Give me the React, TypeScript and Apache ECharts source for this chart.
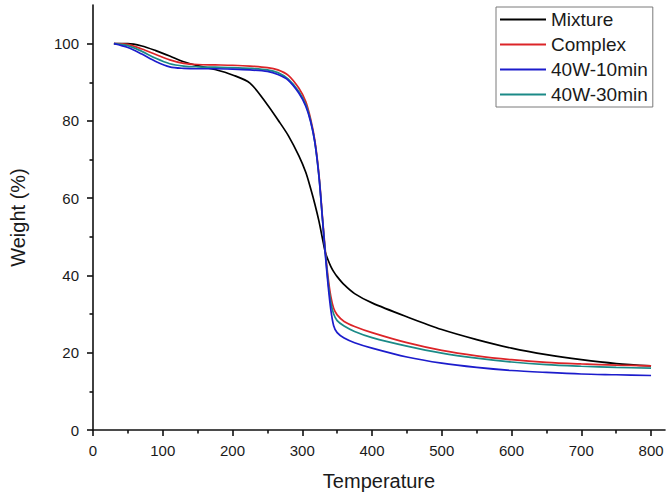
import React, { useEffect, useRef } from "react";
import * as echarts from "echarts";

const seriesNames = ["Mixture", "Complex", "40W-10min", "40W-30min"];
const seriesColors = ["#000000", "#dc2428", "#1c1ccc", "#1b8a87"];

const temps = [30, 50, 70, 90, 110, 130, 150, 175, 200, 225, 250, 265, 280, 295, 305, 312, 318, 324, 329, 333, 337, 341, 345, 350, 360, 375, 400, 450, 500, 550, 600, 650, 700, 750, 800];

const mixture = [100, 100, 99.4, 98.2, 96.8, 95.3, 94.3, 93.3, 91.9, 89.8, 84.2, 80.3, 76.2, 71, 66.7, 62.5, 58.5, 54, 49.5, 46, 44, 42.3, 41, 39.7, 37.6, 35.3, 32.9, 29.3, 26, 23.4, 21.2, 19.5, 18.2, 17.2, 16.6];
const complex = [100, 99.8, 98.6, 97.2, 95.8, 94.9, 94.6, 94.5, 94.4, 94.2, 93.8, 93.2, 91.8, 88.5, 85, 80.5, 75, 66, 55, 46.5, 39.5, 34.5, 31.5, 29.8, 28.1, 26.8, 25.2, 22.6, 20.6, 19.2, 18.2, 17.5, 17.1, 16.8, 16.6];
const w10 = [100, 99, 97.3, 95.4, 94, 93.6, 93.5, 93.5, 93.4, 93.2, 92.8, 92, 90.5, 87.2, 83.8, 79.8, 74.5, 65.5, 54.5, 45.5, 37.5, 31, 27, 25.2, 23.8, 22.6, 21.2, 18.9, 17.3, 16.2, 15.4, 14.9, 14.5, 14.3, 14.1];
const w30 = [100, 99.5, 98, 96.2, 94.8, 94.2, 94, 93.9, 93.8, 93.6, 93.2, 92.5, 90.8, 87.6, 84.2, 80, 74.5, 65.5, 54.5, 46, 38.5, 33, 30, 28.3, 26.9, 25.5, 23.9, 21.7, 19.9, 18.6, 17.6, 16.9, 16.5, 16.2, 16.0];

const xMajor = [0, 100, 200, 300, 400, 500, 600, 700, 800];
const xMinor = [50, 150, 250, 350, 450, 550, 650, 750];
const yMajor = [0, 20, 40, 60, 80, 100];
const yMinor = [10, 30, 50, 70, 90];

const FONT = "'Liberation Sans', Arial, sans-serif";

export default function App() {
  const ref = useRef<HTMLDivElement>(null);
  useEffect(() => {
    if (!ref.current) return;
    const chart = echarts.init(ref.current, undefined, { renderer: "svg" });
    const valueSets = [mixture, complex, w10, w30];
    const mk = (i: number) => ({
      name: seriesNames[i],
      type: "line",
      data: temps.map((t, k) => [t, valueSets[i][k]]),
      showSymbol: false,
      symbol: "none",
      smooth: 0.3,
      lineStyle: { color: seriesColors[i], width: 1.7 },
      itemStyle: { color: seriesColors[i] },
      xAxisIndex: 0,
      yAxisIndex: 0,
    });
    const axisCommon = {
      type: "value",
      splitLine: { show: false },
    };
    chart.setOption({
      animation: false,
      backgroundColor: "#ffffff",
      textStyle: { fontFamily: FONT },
      grid: { left: 92, right: 4, top: 5, bottom: 69, containLabel: false },
      legend: {
        data: seriesNames,
        orient: "vertical",
        left: 496,
        top: 7,
        icon: "rect",
        itemWidth: 46,
        itemHeight: 2,
        itemGap: 0,
        padding: [0, 5, 0, 4],
        borderColor: "#7a7a7a",
        borderWidth: 1,
        backgroundColor: "#ffffff",
        textStyle: { fontSize: 19, lineHeight: 25, color: "#1a1a1a", fontFamily: FONT },
      },
      xAxis: [
        {
          ...axisCommon,
          min: 0,
          max: 820,
          position: "bottom",
          axisLine: { show: true, onZero: false, lineStyle: { color: "#111", width: 1.6 } },
          axisTick: { show: true, customValues: xMajor, length: 6, lineStyle: { color: "#111", width: 1.6 } },
          axisLabel: { customValues: xMajor, fontSize: 15, color: "#1a1a1a", margin: 13, fontFamily: FONT },
          name: "Temperature",
          nameLocation: "middle",
          nameGap: 41,
          nameTextStyle: { fontSize: 20, color: "#1a1a1a", fontFamily: FONT },
        },
        {
          ...axisCommon,
          min: 0,
          max: 820,
          position: "bottom",
          axisLine: { show: false, onZero: false },
          axisTick: { show: true, customValues: xMinor, length: 3.5, lineStyle: { color: "#111", width: 1.6 } },
          axisLabel: { show: false },
        },
      ],
      yAxis: [
        {
          ...axisCommon,
          min: 0,
          max: 110,
          position: "left",
          axisLine: { show: true, onZero: false, lineStyle: { color: "#111", width: 1.6 } },
          axisTick: { show: true, customValues: yMajor, length: 6, lineStyle: { color: "#111", width: 1.6 } },
          axisLabel: { customValues: yMajor, fontSize: 15, color: "#1a1a1a", margin: 14, fontFamily: FONT },
          name: "Weight (%)",
          nameLocation: "middle",
          nameGap: 65,
          nameTextStyle: { fontSize: 20, color: "#1a1a1a", fontFamily: FONT },
        },
        {
          ...axisCommon,
          min: 0,
          max: 110,
          position: "left",
          axisLine: { show: false, onZero: false },
          axisTick: { show: true, customValues: yMinor, length: 3.5, lineStyle: { color: "#111", width: 1.6 } },
          axisLabel: { show: false },
        },
      ],
      series: [mk(0), mk(1), mk(3), mk(2)],
    });
    return () => chart.dispose();
  }, []);
  return <div ref={ref} style={{ position: "fixed", left: 0, top: 0, width: 669, height: 499 }} />;
}
